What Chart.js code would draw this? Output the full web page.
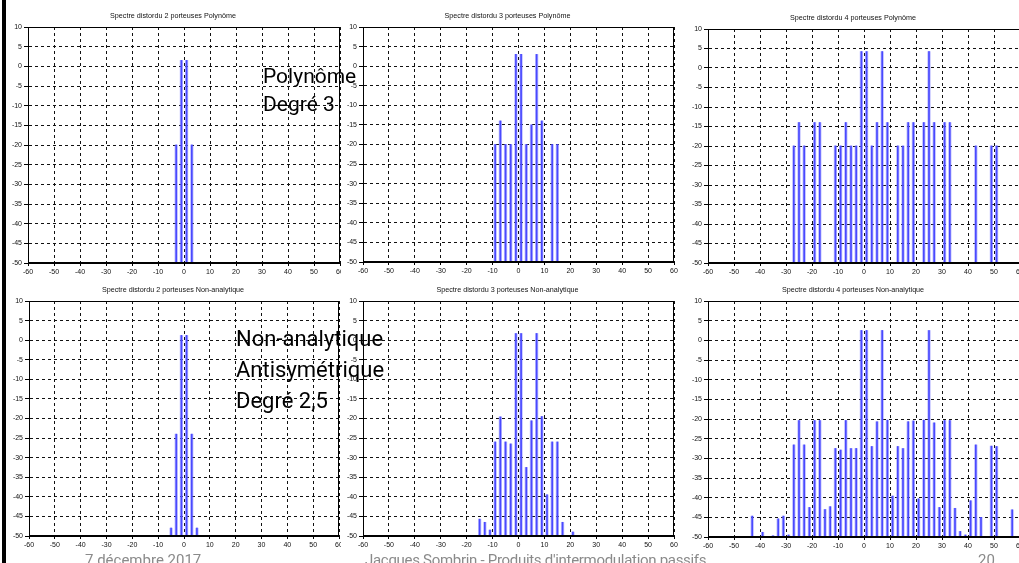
<!DOCTYPE html>
<html lang="fr">
<head>
<meta charset="utf-8">
<title>Spectres distordus - Polynôme / Non-analytique</title>
<script src="https://cdn.jsdelivr.net/npm/chart.js@4.4.1/dist/chart.umd.min.js"></script>
<style>
    html, body { margin: 0; padding: 0; background: #fff; }
    #slide { position: relative; width: 1019px; height: 563px; overflow: hidden; background: #fff; }
    #slide canvas { position: absolute; background: #fff; }
    .note { position: absolute; font-family: Roboto, sans-serif; color: #000; white-space: nowrap; }
    .foot { position: absolute; top: 553px; font-family: Roboto, sans-serif; font-size: 15px; line-height: 15px; color: #8a8a8a; white-space: nowrap; }
    #edge { position: absolute; left: 2px; top: 0; width: 4px; height: 563px; background: #000; }
</style>
</head>
<body>
<div id="slide">
    <canvas id="c1"></canvas>
    <canvas id="c2"></canvas>
    <canvas id="c3"></canvas>
    <canvas id="c4"></canvas>
    <canvas id="c5"></canvas>
    <canvas id="c6"></canvas>

    <div class="note" style="left:263px; top:62px; font-size:21px; line-height:28px;">Polynôme<br>Degré 3</div>
    <div class="note" style="left:236px; top:323px; font-size:22px; line-height:31px;">Non-analytique<br>Antisymétrique<br>Degré 2,5</div>

    <div class="foot" style="left:85px;">7 décembre 2017</div>
    <div class="foot" style="left:365px; letter-spacing:-0.3px;">Jacques Sombrin - Produits d'intermodulation passifs</div>
    <div class="foot" style="left:978px;">20</div>
    <div id="edge"></div>
</div>

<script>
// Axes communs
const xTicks = [-60, -50, -40, -30, -20, -10, 0, 10, 20, 30, 40, 50, 60];
const yTicks = [10, 5, 0, -5, -10, -15, -20, -25, -30, -35, -40, -45, -50];
const yFloor = -50;

// 2 porteuses, polynôme degré 3
const poly2Freq  = [-3, -1, 1, 3];
const poly2Level = [-20, 1.5, 1.5, -20];

// 3 porteuses, polynôme degré 3
const poly3Freq  = [-9, -7, -5, -3, -1, 1, 3, 5, 7, 9, 13, 15];
const poly3Level = [-20, -14, -20, -20, 3, 3, -20, -15, 3, -14, -20, -20];

// 4 porteuses, polynôme degré 3
const poly4Freq  = [-27, -25, -23, -19, -17, -11, -9, -7, -5, -3, -1, 1, 3, 5,
                    7, 9, 13, 15, 17, 19, 23, 25, 27, 31, 33, 43, 49, 51];
const poly4Level = [-20, -14, -20, -14, -14, -20, -20, -14, -20, -20, 4.2, 4.2, -20, -14,
                    4.2, -14, -20, -20, -14, -14, -14, 4.2, -14, -14, -14, -20, -20, -20];

// 2 porteuses, non-analytique
const nonan2Freq  = [-5, -3, -1, 1, 3, 5];
const nonan2Level = [-48, -24, 1.2, 1.2, -24, -48];

// 3 porteuses, non-analytique
const nonan3Freq  = [-15, -13, -11, -9, -7, -5, -3, -1, 1, 3, 5, 7, 9, 11, 13, 15, 17, 21];
const nonan3Level = [-45.7, -46.5, -48.5, -26, -19.6, -26, -26.5, 1.7, 1.7, -32.5,
                     -20.6, 1.7, -19.5, -39.5, -26, -26, -46.5, -49];

// 4 porteuses, non-analytique
const nonan4Freq  = [-43, -39, -35, -33, -31, -29, -27, -25, -23, -21, -19, -17, -15, -13,
                     -11, -9, -7, -5, -3, -1, 1, 3, 5, 7, 9, 11, 13, 15, 17, 19, 21, 23,
                     25, 27, 29, 31, 33, 35, 37, 39, 41, 43, 45, 49, 51, 57];
const nonan4Level = [-44.7, -48.8, -49.7, -45.4, -44.7, -49.5, -26.6, -20.4, -26.6, -42.5,
                     -20.4, -20.4, -43, -42.3, -27.5, -27.9, -20.4, -27.5, -27.5, 2.5, 2.5,
                     -27, -20.7, 2.5, -20.3, -39.6, -27, -27.5, -20.7, -20.5, -40.3, -20.3,
                     2.5, -21, -42.5, -20.4, -20.4, -42.7, -48.6, -49.5, -40.8, -26.6, -45,
                     -26.9, -27, -43.1];

// Mise en page des six graphes (zone de tracé: gauche, droite, haut, bas)
const AXIS_W = 22;
const TITLE_H = 22;
const TICKS_H = 16;

const plots = [
    { id: 'c1', title: 'Spectre distordu 2 porteuses Polynôme', freq: poly2Freq, level: poly2Level, area: [28, 340, 27, 263] },
    { id: 'c2', title: 'Spectre distordu 3 porteuses Polynôme', freq: poly3Freq, level: poly3Level, area: [363, 674, 27, 262] },
    { id: 'c3', title: 'Spectre distordu 4 porteuses Polynôme', freq: poly4Freq, level: poly4Level, area: [708, 1020, 29, 263] },
    { id: 'c4', title: 'Spectre distordu 2 porteuses Non-analytique', freq: nonan2Freq, level: nonan2Level, area: [29, 339, 301, 536] },
    { id: 'c5', title: 'Spectre distordu 3 porteuses Non-analytique', freq: nonan3Freq, level: nonan3Level, area: [363, 674, 301, 536] },
    { id: 'c6', title: 'Spectre distordu 4 porteuses Non-analytique', freq: nonan4Freq, level: nonan4Level, area: [708, 1020, 301, 537] }
];

// Cadre autour de la zone de tracé
const framePlugin = {
    id: 'frame',
    afterDraw(chart) {
        const { ctx, chartArea: a } = chart;
        ctx.save();
        ctx.strokeStyle = '#000';
        ctx.lineWidth = 1;
        ctx.strokeRect(a.left + 0.5, a.top + 0.5, a.right - a.left - 1, a.bottom - a.top - 1);
        ctx.restore();
    }
};

const tickFont = { family: 'Liberation Sans', size: 7 };

function axisOptions(ticks, min, max, isX) {
    return {
        type: 'linear',
        min: min,
        max: max,
        offset: false,
        afterBuildTicks: s => { s.ticks = ticks.map(v => ({ value: v })); },
        afterFit: s => {
            if (isX) s.height = TICKS_H;
            else s.width = AXIS_W;
        },
        grid: { offset: false, color: '#111', lineWidth: 1, tickLength: isX ? 3 : 4, tickColor: '#000' },
        border: { display: true, color: '#000', dash: [3, 3] },
        ticks: { font: tickFont, color: '#111', padding: 2, autoSkip: false, maxRotation: 0 }
    };
}

// Création d'un spectre
function createSpectrumChart(p) {
    const [l, r, t, b] = p.area;
    const canvas = document.getElementById(p.id);
    canvas.width = AXIS_W + (r - l) + AXIS_W;
    canvas.height = TITLE_H + (b - t) + TICKS_H;
    canvas.style.left = (l - AXIS_W) + 'px';
    canvas.style.top = (t - TITLE_H) + 'px';

    const points = p.freq.map((f, i) => ({ x: f, y: [yFloor, p.level[i]] }));

    new Chart(canvas.getContext('2d'), {
        type: 'bar',
        data: {
            datasets: [
                { data: points, backgroundColor: 'rgba(120, 120, 255, 0.5)', barThickness: 2.6, grouped: false },
                { data: points, backgroundColor: '#1a1aff', barThickness: 1, grouped: false }
            ]
        },
        options: {
            responsive: false,
            animation: false,
            layout: { padding: { left: 0, right: AXIS_W, top: 0, bottom: 0 } },
            plugins: {
                legend: { display: false },
                tooltip: { enabled: false },
                title: {
                    display: true,
                    text: p.title,
                    color: '#111',
                    font: { family: 'Liberation Sans', size: 7.2, weight: 'normal' },
                    padding: { top: 6.5, bottom: 6.86 }
                }
            },
            scales: {
                x: axisOptions(xTicks, -60, 60, true),
                y: axisOptions(yTicks, -50, 10, false)
            }
        },
        plugins: [framePlugin]
    });
}

document.addEventListener('DOMContentLoaded', function() {
    plots.forEach(createSpectrumChart);
});
</script>
</body>
</html>
